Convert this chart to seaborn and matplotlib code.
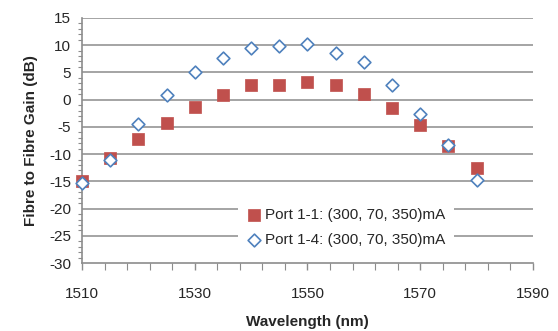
import numpy as np
import pandas as pd
import matplotlib
matplotlib.use("Agg")
import matplotlib.pyplot as plt
import seaborn as sns
from matplotlib.ticker import MultipleLocator

# data
wavelength = [1510, 1515, 1520, 1525, 1530, 1535, 1540, 1545, 1550, 1555, 1560, 1565, 1570, 1575, 1580]
port_1_1 = [-15.0, -10.7, -7.2, -4.2, -1.3, 0.8, 2.6, 2.7, 3.2, 2.7, 1.0, -1.6, -4.7, -8.5, -12.5]
port_1_4 = [-15.3, -11.0, -4.4, 0.9, 5.0, 7.7, 9.4, 9.9, 10.2, 8.5, 6.9, 2.7, -2.6, -8.4, -14.8]

label_11 = 'Port 1-1: (300, 70, 350)mA'
label_14 = 'Port 1-4: (300, 70, 350)mA'

df = pd.DataFrame({'Wavelength': wavelength + wavelength,
                   'Gain': port_1_1 + port_1_4,
                   'Series': [label_11] * len(wavelength) + [label_14] * len(wavelength)})

sns.set_style("white")
plt.rcParams['font.family'] = ['Liberation Sans', 'DejaVu Sans']
plt.rcParams['axes.unicode_minus'] = False

fig = plt.figure(figsize=(5.58, 3.31), dpi=100)
ax = fig.add_axes([0.147, 0.205, 0.808, 0.741])

grid_col = '#8c8c8c'
for v in range(-25, 16, 5):
    ax.axhline(v, color=grid_col, lw=1.1, zorder=0)

sns.scatterplot(data=df[df['Series'] == label_11], x='Wavelength', y='Gain', ax=ax,
                marker='s', s=80, color='#C0504D', edgecolor='#C0504D', linewidth=0.5,
                label=label_11, clip_on=False, zorder=3)
sns.scatterplot(data=df[df['Series'] == label_14], x='Wavelength', y='Gain', ax=ax,
                marker='D', s=42, facecolor='white', edgecolor='#4F81BD', linewidth=1.2,
                label=label_14, clip_on=False, zorder=4)

ax.set_xlim(1510, 1590)
ax.set_ylim(-30, 15)
ax.set_xticks(np.arange(1510, 1591, 20))
ax.set_xticks(np.arange(1510, 1591, 4), minor=True)
ax.yaxis.set_major_locator(MultipleLocator(5))
ax.yaxis.set_minor_locator(MultipleLocator(1))

for side in ['top', 'right']:
    ax.spines[side].set_visible(False)
for side in ['left', 'bottom']:
    ax.spines[side].set_color(grid_col)
    ax.spines[side].set_linewidth(1.2)

ax.tick_params(axis='both', which='both', direction='out', color=grid_col, labelsize=11)
ax.tick_params(axis='y', which='major', length=5, width=1, pad=3)
ax.tick_params(axis='y', which='minor', length=3, width=0.8, left=True)
ax.tick_params(axis='x', which='major', length=5, width=1, pad=12, bottom=True)
ax.tick_params(axis='x', which='minor', length=5, width=0.8, bottom=True)

ax.set_xlabel('Wavelength (nm)', fontsize=11, fontweight='bold', labelpad=10)
ax.set_ylabel('Fibre to Fibre Gain (dB)', fontsize=11, fontweight='bold', labelpad=8)

leg = ax.legend(loc='lower left', bbox_to_anchor=(0.345, 0.03), fontsize=11,
                frameon=True, facecolor='white', edgecolor='white', framealpha=1,
                borderpad=0.6, handletextpad=0.2, labelspacing=0.7, borderaxespad=0,
                handlelength=1.0)
leg.get_frame().set_linewidth(0)

fig.savefig('out.png', dpi=100)
